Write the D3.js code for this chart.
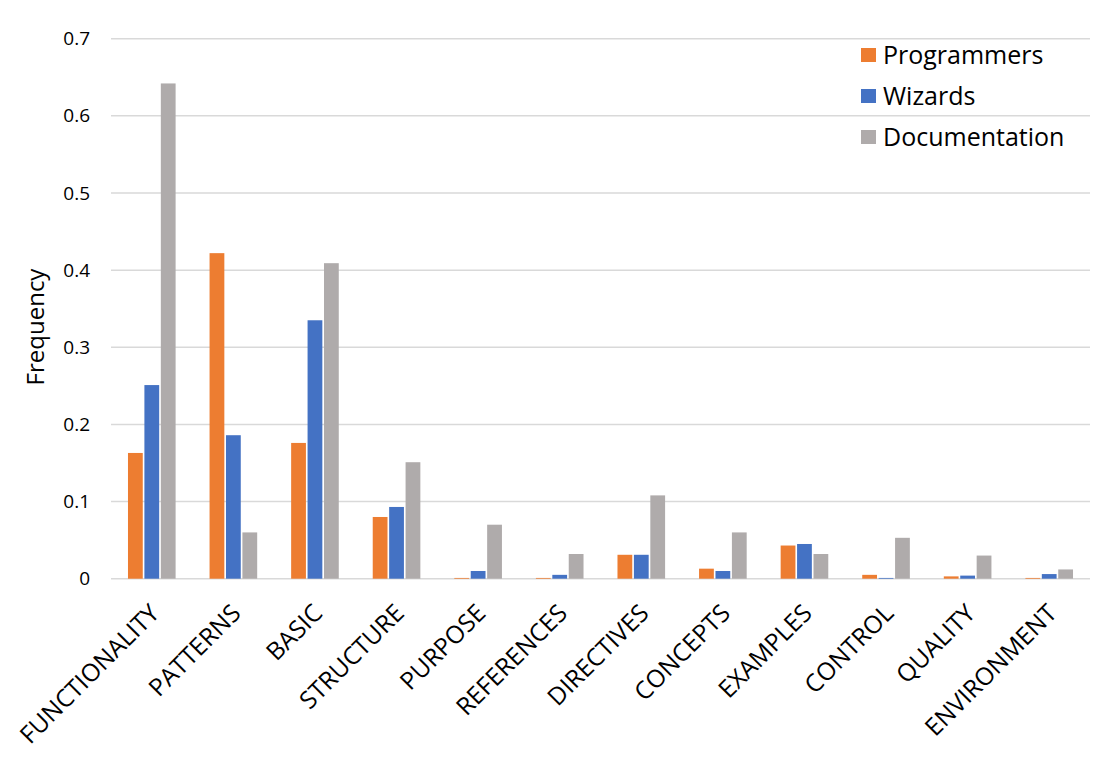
<!DOCTYPE html>
<html>
<head>
<meta charset="utf-8">
<script src="https://cdn.jsdelivr.net/npm/d3@7"></script>
<style>
  body { margin: 0; background: #fff; }
  svg text { font-family: "Open Sans", "Noto Sans", sans-serif; fill: #000; }
</style>
</head>
<body>
<svg id="chart" width="1116" height="764"></svg>
<script>
const categories = ["FUNCTIONALITY","PATTERNS","BASIC","STRUCTURE","PURPOSE","REFERENCES","DIRECTIVES","CONCEPTS","EXAMPLES","CONTROL","QUALITY","ENVIRONMENT"];
const seriesNames = ["Programmers","Wizards","Documentation"];
const programmers   = [0.163, 0.422, 0.176, 0.080, 0.001, 0.001, 0.031, 0.013, 0.043, 0.005, 0.003, 0.001];
const wizards       = [0.251, 0.186, 0.335, 0.093, 0.010, 0.005, 0.031, 0.010, 0.045, 0.001, 0.004, 0.006];
const documentation = [0.642, 0.060, 0.409, 0.151, 0.070, 0.032, 0.108, 0.060, 0.032, 0.053, 0.030, 0.012];
const yTicks = [0, 0.1, 0.2, 0.3, 0.4, 0.5, 0.6, 0.7];
const colors = ["#ED7D31", "#4472C4", "#AFABAB"];

const seriesValues = [programmers, wizards, documentation];
const svg = d3.select("#chart");
const margin = {left: 111, right: 26, top: 38.7, bottom: 185.3};
const W = 1116, H = 764;

const x = d3.scaleBand().domain(categories).range([margin.left, W - margin.right]).paddingInner(0.376).paddingOuter(0.188);
const xs = d3.scaleBand().domain(seriesNames).range([0, x.bandwidth()]).padding(0.1);
const y = d3.scaleLinear().domain([0, 0.7]).range([H - margin.bottom, margin.top]);

// gridlines
svg.append("g").selectAll("line").data(yTicks).join("line")
  .attr("x1", margin.left).attr("x2", W - margin.right)
  .attr("y1", d => y(d)).attr("y2", d => y(d))
  .attr("stroke", "#D9D9D9").attr("stroke-width", 1.5);

// y axis labels
const yAxis = d3.axisLeft(y).tickValues(yTicks).tickFormat(d => d === 0 ? "0" : d3.format(".1f")(d)).tickSize(0).tickPadding(21);
const gy = svg.append("g").attr("transform", `translate(${margin.left},0)`).call(yAxis);
gy.select(".domain").remove();
gy.selectAll("text").style("font-size", "19px").style("font-family", "'Open Sans', sans-serif").attr("fill", "#000");

// bars
const groups = svg.append("g").selectAll("g").data(categories).join("g")
  .attr("transform", d => `translate(${x(d)},0)`);
groups.selectAll("rect").data((c, i) => seriesNames.map((s, j) => ({s, j, v: seriesValues[j][i]})))
  .join("rect")
  .attr("x", d => xs(d.s))
  .attr("width", xs.bandwidth())
  .attr("y", d => y(d.v))
  .attr("height", d => y(0) - y(d.v))
  .attr("fill", d => colors[d.j]);

// x axis labels
const xAxis = d3.axisBottom(x).tickSize(0).tickPadding(0);
const gx = svg.append("g").attr("transform", `translate(0,${y(0)})`).call(xAxis);
gx.select(".domain").remove();
gx.selectAll("text")
  .style("font-size", "24.5px").style("font-family", "'Open Sans', sans-serif").attr("fill", "#000")
  .attr("text-anchor", "end")
  .attr("dy", null).attr("y", 0)
  .attr("transform", "translate(9,36) rotate(-45)");

// y title
svg.append("text").attr("transform", `translate(44,${327}) rotate(-90)`)
  .attr("text-anchor", "middle").style("font-size", "24px").text("Frequency");

// legend
const lg = svg.append("g").attr("transform", "translate(861,55)");
const li = lg.selectAll("g").data(seriesNames).join("g").attr("transform", (d, i) => `translate(0,${i * 41})`);
li.append("rect").attr("x", 0).attr("y", -7).attr("width", 15).attr("height", 14).attr("fill", (d, i) => colors[i]);
li.append("text").attr("x", 22).attr("y", 0).attr("dy", "0.35em").style("font-size", "25px").text(d => d);
</script>
</body>
</html>
